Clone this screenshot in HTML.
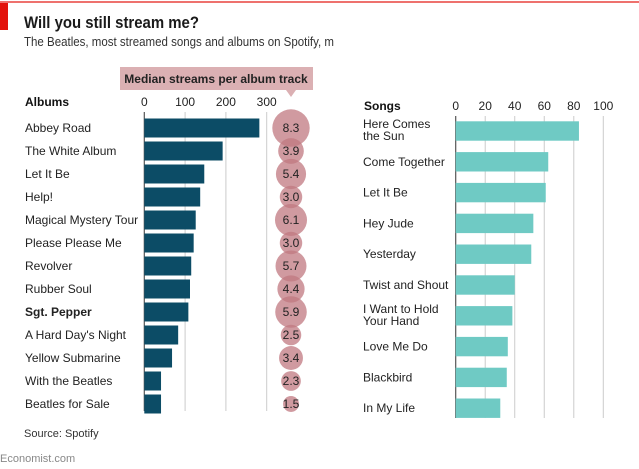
<!DOCTYPE html>
<html><head><meta charset="utf-8"><style>
body{margin:0;background:#fff;}
svg{display:block;font-family:"Liberation Sans",sans-serif;}
</style></head><body>
<svg id="chart" width="639" height="469" viewBox="0 0 639 469">
<rect x="0" y="1" width="639" height="2" fill="#e3120b" opacity="0.6"/>
<rect x="0" y="3" width="8" height="27" fill="#e3120b"/>
<text x="24" y="28" font-size="17" font-weight="bold" fill="#1a1a1a" textLength="175" lengthAdjust="spacingAndGlyphs">Will you still stream me?</text>
<text x="24" y="46" font-size="12.5" fill="#333" textLength="310" lengthAdjust="spacingAndGlyphs">The Beatles, most streamed songs and albums on Spotify, m</text>
<rect x="120" y="67" width="193" height="23" fill="#dbb0b3"/>
<polygon points="286,90 296,90 291,97" fill="#dbb0b3"/>
<text x="216" y="83" font-size="12" font-weight="bold" fill="#222" text-anchor="middle">Median streams per album track</text>
<text x="25" y="106" font-size="12" font-weight="bold" fill="#111">Albums</text>
<text x="364" y="110" font-size="12" font-weight="bold" fill="#111">Songs</text>
<g id="g"></g>
<text x="24" y="437" font-size="11" fill="#333">Source: Spotify</text>
<text x="0" y="462" font-size="11" fill="#888">Economist.com</text>
</svg>
<script>
const albums=["Abbey Road","The White Album","Let It Be","Help!","Magical Mystery Tour","Please Please Me","Revolver","Rubber Soul","Sgt. Pepper","A Hard Day's Night","Yellow Submarine","With the Beatles","Beatles for Sale"];
const albumStreams=[282,192,147,137,126,121,115,112,108,83,68,41,41];
const medians=[8.3,3.9,5.4,3.0,6.1,3.0,5.7,4.4,5.9,2.5,3.4,2.3,1.5];
const albumTicks=[0,100,200,300];
const songs=[["Here Comes","the Sun"],["Come Together"],["Let It Be"],["Hey Jude"],["Yesterday"],["Twist and Shout"],["I Want to Hold","Your Hand"],["Love Me Do"],["Blackbird"],["In My Life"]];
const songStreams=[83.5,62.7,61,52.6,51.2,40,38.4,35.3,34.6,30.2];
const songTicks=[0,20,40,60,80,100];

const NS="http://www.w3.org/2000/svg";
const g=document.getElementById('g');
function mk(tag,attrs,txt){const e=document.createElementNS(NS,tag);for(const k in attrs)e.setAttribute(k,attrs[k]);if(txt!=null)e.textContent=txt;g.appendChild(e);return e;}
const ax=v=>144.3+v*0.408;
const ay=i=>128+i*23;
const sx=v=>455.7+v*1.476;
const sy=i=>131+i*30.8;
const rr=v=>18.7*Math.sqrt(v/8.3);

albumTicks.forEach(t=>{
 const l=mk('line',{x1:ax(t),x2:ax(t),y1:112,y2:411,stroke:t?'#ccc':'#555','stroke-width':t?1:1.2});
 
 
 const tx=mk('text',{x:ax(t),y:106,'font-size':12,fill:'#222','text-anchor':'middle'},t);
 
 
});
albums.forEach((a,i)=>{
 const t=mk('text',{x:25,y:ay(i)+4,'font-size':12,fill:'#222','font-weight':a==="Sgt. Pepper"?'bold':'normal'},a);
 
 
 const b=mk('rect',{x:ax(0),y:ay(i)-9.5,width:ax(albumStreams[i])-ax(0),height:19,fill:'#0c4c66'});
 
 
});
medians.forEach((m,i)=>{
 const c=mk('circle',{cx:291,cy:ay(i),r:rr(m),fill:'#c07880','fill-opacity':0.75});
 
 
});
medians.forEach((m,i)=>{
 const t=mk('text',{x:291,y:ay(i)+4,'font-size':12,fill:'#222','text-anchor':'middle'},m.toFixed(1));
 
 
});
songTicks.forEach(t=>{
 const l=mk('line',{x1:sx(t),x2:sx(t),y1:116,y2:418,stroke:t?'#ccc':'#555','stroke-width':t?1:1.2});
 
 
 const tx=mk('text',{x:sx(t),y:110,'font-size':12,fill:'#222','text-anchor':'middle'},t);
 
 
});
songs.forEach((s,i)=>{
 const b=mk('rect',{x:sx(0),y:sy(i)-9.7,width:sx(songStreams[i])-sx(0),height:19.4,fill:'#6fcac4'});
 
 
 s.forEach((line,j)=>{
  const y=s.length>1?sy(i)-3+j*12:sy(i)+4;
  const t=mk('text',{x:363,y:y,'font-size':12,fill:'#222'},line);
  
  
 });
});
</script>
</body></html>
